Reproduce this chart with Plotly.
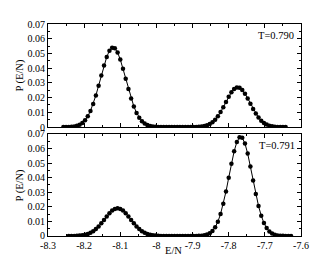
import plotly.graph_objects as go

# Energy per particle bins (E/N)
E_TOP = [-8.2575, -8.25, -8.2425, -8.235, -8.2275, -8.22, -8.2125, -8.205, -8.1975, -8.19,
         -8.1825, -8.175, -8.1675, -8.16, -8.1525, -8.145, -8.1375, -8.13, -8.1225, -8.115,
         -8.1075, -8.1, -8.0925, -8.085, -8.0775, -8.07, -8.0625, -8.055, -8.0475, -8.04,
         -8.0325, -8.025, -8.0175, -8.01, -8.0025, -7.995, -7.9875, -7.98, -7.9725, -7.965,
         -7.9575, -7.95, -7.9425, -7.935, -7.9275, -7.92, -7.9125, -7.905, -7.8975, -7.89,
         -7.8825, -7.875, -7.8675, -7.86, -7.8525, -7.845, -7.8375, -7.83, -7.8225, -7.815,
         -7.8075, -7.8, -7.7925, -7.785, -7.7775, -7.77, -7.7625, -7.755, -7.7475, -7.74,
         -7.7325, -7.725, -7.7175, -7.71, -7.7025, -7.695, -7.6875, -7.68, -7.6725, -7.665,
         -7.6575, -7.65, -7.6425]

P_TOP = [0.00002, 0.00005, 0.00012, 0.00024, 0.00048, 0.00091, 0.00164, 0.00283, 0.00465, 0.00731,
         0.01097, 0.01571, 0.02150, 0.02810, 0.03509, 0.04184, 0.04766, 0.05184, 0.05386, 0.05345,
         0.05066, 0.04586, 0.03966, 0.03275, 0.02584, 0.01946, 0.01401, 0.00963, 0.00632, 0.00396,
         0.00237, 0.00136, 0.00074, 0.00039, 0.00019, 0.00009, 0.00004, 0.00002, 0.00001, 0.0,
         0.0, 0.0, 0.0, 0.0, 0.0, 0.00001, 0.00001, 0.00002, 0.00004, 0.00009,
         0.00018, 0.00036, 0.00067, 0.00119, 0.00201, 0.00324, 0.00498, 0.00730, 0.01018, 0.01352,
         0.01710, 0.02061, 0.02365, 0.02586, 0.02693, 0.02671, 0.02523, 0.02271, 0.01947, 0.01590,
         0.01236, 0.00916, 0.00646, 0.00434, 0.00278, 0.00169, 0.00098, 0.00054, 0.00029, 0.00014,
         0.00007, 0.00003, 0.00001]

E_BOT = [-8.2425, -8.235, -8.2275, -8.22, -8.2125, -8.205, -8.1975, -8.19, -8.1825, -8.175,
         -8.1675, -8.16, -8.1525, -8.145, -8.1375, -8.13, -8.1225, -8.115, -8.1075, -8.1,
         -8.0925, -8.085, -8.0775, -8.07, -8.0625, -8.055, -8.0475, -8.04, -8.0325, -8.025,
         -8.0175, -8.01, -8.0025, -7.995, -7.9875, -7.98, -7.9725, -7.965, -7.9575, -7.95,
         -7.9425, -7.935, -7.9275, -7.92, -7.9125, -7.905, -7.8975, -7.89, -7.8825, -7.875,
         -7.8675, -7.86, -7.8525, -7.845, -7.8375, -7.83, -7.8225, -7.815, -7.8075, -7.8,
         -7.7925, -7.785, -7.7775, -7.77, -7.7625, -7.755, -7.7475, -7.74, -7.7325, -7.725,
         -7.7175, -7.71, -7.7025, -7.695, -7.6875, -7.68, -7.6725, -7.665, -7.6575, -7.65,
         -7.6425, -7.635, -7.6275]

P_BOT = [0.00002, 0.00004, 0.00007, 0.00014, 0.00027, 0.00049, 0.00083, 0.00138, 0.00217, 0.00328,
         0.00474, 0.00656, 0.00870, 0.01104, 0.01343, 0.01563, 0.01742, 0.01859, 0.01900, 0.01859,
         0.01742, 0.01563, 0.01343, 0.01104, 0.00870, 0.00656, 0.00474, 0.00328, 0.00217, 0.00138,
         0.00083, 0.00049, 0.00027, 0.00014, 0.00007, 0.00004, 0.00002, 0.00001, 0.0, 0.0,
         0.0, 0.0, 0.0, 0.0, 0.0, 0.00001, 0.00002, 0.00004, 0.00010, 0.00023,
         0.00049, 0.00100, 0.00192, 0.00349, 0.00600, 0.00979, 0.01511, 0.02208, 0.03053, 0.03996,
         0.04950, 0.05805, 0.06444, 0.06770, 0.06733, 0.06338, 0.05648, 0.04763, 0.03803, 0.02874,
         0.02055, 0.01392, 0.00892, 0.00541, 0.00311, 0.00169, 0.00087, 0.00042, 0.00020, 0.00009,
         0.00004, 0.00002, 0.00001]

X_TICKS = [-8.3, -8.2, -8.1, -8.0, -7.9, -7.8, -7.7, -7.6]
X_TICKTEXT = ["-8.3", "-8.2", "-8.1", "-8", "-7.9", "-7.8", "-7.7", "-7.6"]
Y_TICKS = [0, 0.01, 0.02, 0.03, 0.04, 0.05, 0.06, 0.07]
Y_TICKTEXT = ["0", "0.01", "0.02", "0.03", "0.04", "0.05", "0.06", "0.07"]
LABELS = ["T=0.790", "T=0.791"]

FONT = "Liberation Serif"

fig = go.Figure()
style = dict(mode="lines+markers", line=dict(color="black", width=1),
             marker=dict(color="black", size=4.5, symbol="circle"), showlegend=False)
fig.add_trace(go.Scatter(x=E_TOP, y=P_TOP, xaxis="x", yaxis="y", **style))
fig.add_trace(go.Scatter(x=E_BOT, y=P_BOT, xaxis="x2", yaxis="y2", **style))

W, H = 330, 255
L, R, T, B = 40, 37, 10, 27
ph = H - T - B
top_dom = [(228 - 116) / ph, 1.0]
bot_dom = [0.0, (228 - 123) / ph]

def xax(show_labels, anchor):
    return dict(range=[-8.3, -7.6], tickvals=X_TICKS, ticktext=X_TICKTEXT,
                showticklabels=show_labels, ticks="inside", ticklen=4, tickwidth=1,
                tickcolor="black", showline=True, linecolor="black", linewidth=1,
                mirror="allticks", showgrid=False, zeroline=False, anchor=anchor,
                minor=dict(dtick=0.05, tick0=-8.3, ticks="inside", ticklen=2,
                           tickcolor="black", showgrid=False),
                tickfont=dict(family=FONT, size=10, color="black"))

def yax(dom, anchor):
    return dict(domain=dom, range=[0, 0.07], tickvals=Y_TICKS, ticktext=Y_TICKTEXT,
                ticks="inside", ticklen=4, tickwidth=1, tickcolor="black",
                showline=True, linecolor="black", linewidth=1, mirror="allticks",
                showgrid=False, zeroline=False, anchor=anchor,
                minor=dict(dtick=0.005, tick0=0, ticks="inside", ticklen=2,
                           tickcolor="black", showgrid=False),
                tickfont=dict(family=FONT, size=10, color="black"))

fig.update_layout(
    width=W, height=H, margin=dict(l=L, r=R, t=T, b=B),
    paper_bgcolor="white", plot_bgcolor="white",
    font=dict(family=FONT, color="black"),
    xaxis=xax(False, "y"),
    yaxis=yax(top_dom, "x"),
    xaxis2=xax(True, "y2"),
    yaxis2=yax(bot_dom, "x2"),
)

pw = W - L - R
def px(xp):
    return (xp - L) / pw
def py(yp):
    return (H - B - yp) / ph

ann = [
    dict(text="P (E/N)", x=px(12), y=py(63), textangle=-90),
    dict(text="P (E/N)", x=px(12), y=py(176), textangle=-90),
    dict(text="E/N", x=px(165), y=py(243)),
    dict(text=LABELS[0], x=px(268), y=py(22)),
    dict(text=LABELS[1], x=px(269), y=py(135)),
]
for a in ann:
    fig.add_annotation(xref="paper", yref="paper", showarrow=False,
                       xanchor="center", yanchor="middle",
                       font=dict(family=FONT, size=10.5, color="black"), **a)

fig.write_html("out.html")
